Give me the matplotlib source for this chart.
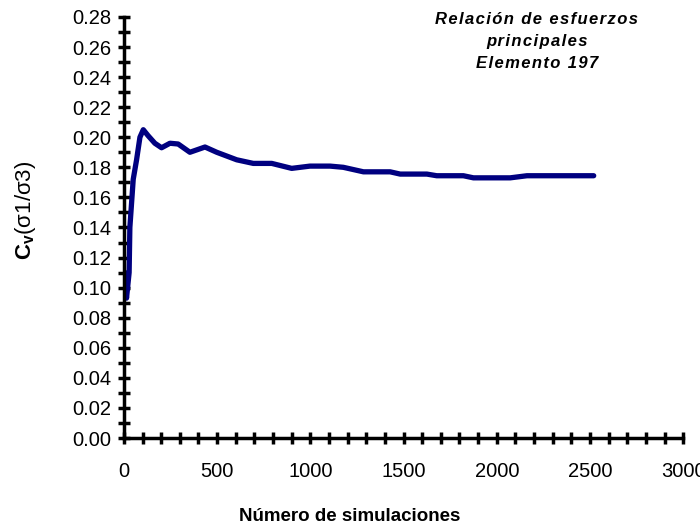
import matplotlib.pyplot as plt
from matplotlib.ticker import MultipleLocator
import numpy as np

plt.rcParams['font.family'] = ['Liberation Sans', 'DejaVu Sans']
plt.rcParams['mathtext.fontset'] = 'custom'
plt.rcParams['mathtext.rm'] = 'Liberation Sans'
plt.rcParams['mathtext.bf'] = 'Liberation Sans:bold'

# numero de simulaciones vs coeficiente de variacion de sigma1/sigma3
n_sim = [5, 14, 28, 32, 50, 68, 86, 104, 130, 166, 202, 247, 291, 354, 435,
         498, 605, 694, 793, 900, 998, 1106, 1177, 1285, 1428, 1482, 1625,
         1678, 1821, 1875, 2072, 2162, 2520]
cv = [0.110, 0.093, 0.110, 0.140, 0.172, 0.185, 0.200, 0.205, 0.201, 0.196,
      0.193, 0.196, 0.1955, 0.190, 0.1935, 0.190, 0.185, 0.1826, 0.1826,
      0.1793, 0.1808, 0.1808, 0.180, 0.177, 0.177, 0.1755, 0.1755, 0.1744,
      0.1744, 0.173, 0.173, 0.1744, 0.1744]


def spaced(s):
    # abre un poco el espaciado entre letras
    return '\n'.join('\u200a'.join(line) for line in s.split('\n'))


fig = plt.figure(figsize=(7, 5.29), dpi=100)
ax = fig.add_axes([0.177, 0.172, 0.799, 0.796])

ax.plot(n_sim, cv, color='#000080', lw=3.8, solid_joinstyle='round',
        solid_capstyle='round')

ax.set_xlim(0, 3000)
ax.set_ylim(0, 0.28)
ax.xaxis.set_major_locator(MultipleLocator(500))
ax.xaxis.set_minor_locator(MultipleLocator(100))
ax.yaxis.set_major_locator(MultipleLocator(0.02))
ax.yaxis.set_minor_locator(MultipleLocator(0.01))
ax.yaxis.set_major_formatter(lambda v, p: f'{v:.2f}')

for s in ['top', 'right']:
    ax.spines[s].set_visible(False)
for s in ['left', 'bottom']:
    ax.spines[s].set_linewidth(2.5)

ax.tick_params(which='both', direction='inout', length=8, width=2.5,
               labelsize=14.5)
ax.tick_params(axis='x', which='major', pad=13)
ax.tick_params(axis='y', which='major', pad=5)

fig.text(0.036, 0.603, r'$\mathbf{C}_{\mathbf{v}}$(σ1/σ3)', rotation=90,
         ha='center', va='center', fontsize=16)
fig.text(0.5, 0.008, 'Número de simulaciones', ha='center', va='bottom',
         fontsize=13.5, fontweight='bold')

fig.text(0.767, 0.978, spaced('Relación de esfuerzos\nprincipales\nElemento 197'),
         ha='center', va='top', fontsize=12, fontweight='bold',
         style='italic', linespacing=1.6)

fig.savefig('out.png', dpi=100)
